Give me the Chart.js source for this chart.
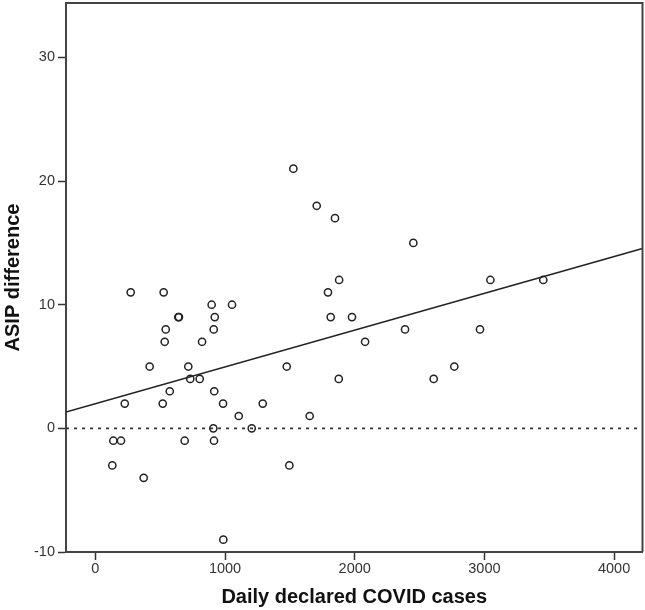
<!DOCTYPE html>
<html>
<head>
<meta charset="utf-8">
<script src="https://cdn.jsdelivr.net/npm/chart.js@4/dist/chart.umd.min.js"></script>
<style>
  body { margin: 0; background: #fff; }
  canvas { display: block; }
</style>
</head>
<body>
<canvas id="asip-chart" width="645" height="610"></canvas>
<script>
// Daily declared COVID cases (x) vs ASIP difference (y)
let casesX = [1527, 1707, 1848, 2452, 273, 527, 1794, 1880, 3046, 3454,
    897, 1054, 640, 645, 921, 1815, 1979, 543, 913, 2388,
    2966, 535, 823, 2080, 419, 717, 1476, 2768, 732, 805,
    1877, 2609, 574, 917, 227, 520, 985, 1291, 1106, 1653,
    910, 1206, 139, 198, 689, 915, 131, 1496, 373, 987]
let asipY = [21, 18, 17, 15, 11, 11, 11, 12, 12, 12,
    10, 10, 9, 9, 9, 9, 9, 8, 8, 8,
    8, 7, 7, 7, 5, 5, 5, 5, 4, 4,
    4, 4, 3, 3, 2, 2, 2, 2, 1, 1,
    0, 0, -1, -1, -1, -1, -3, -3, -4, -9]

// Fit line end points (as drawn in the figure)
let fitX = [-226, 4219]
let fitY = [1.32, 14.55]

// Reference line at zero
let zeroX = [-226, 4219]
let zeroY = [0, 0]

// Axis ranges and ticks
let xRange = [-226, 4219]
let yRange = [-10, 34.4]
let xTicks = [0, 1000, 2000, 3000, 4000]
let yTicks = [-10, 0, 10, 20, 30]

function toPoints(xs, ys) {
    return xs.map(function (x, i) { return {x: x, y: ys[i]} })
}

// Draws the top and right edges of the plot box
let boxPlugin = {
    id: 'box',
    afterDraw: function (chart) {
        let a = chart.chartArea
        let c = chart.ctx
        c.save()
        c.strokeStyle = '#444'
        c.lineWidth = 2
        c.beginPath()
        c.moveTo(a.left, a.top)
        c.lineTo(a.right, a.top)
        c.lineTo(a.right, a.bottom)
        c.stroke()
        c.restore()
    }
}

let tickFont = {family: 'Liberation Sans', size: 14.5}
let titleFont = {family: 'Liberation Sans', size: 20, weight: 'bold'}

let cxt = document.querySelector('#asip-chart').getContext('2d')

let chart = new Chart(cxt, {
    type: 'scatter',
    data: {
        datasets: [
            {
                data: toPoints(zeroX, zeroY),
                showLine: true,
                borderColor: '#333',
                borderWidth: 1.6,
                borderDash: [3, 5],
                pointRadius: 0
            },
            {
                data: toPoints(fitX, fitY),
                showLine: true,
                borderColor: '#222',
                borderWidth: 1.6,
                pointRadius: 0
            },
            {
                data: toPoints(casesX, asipY),
                pointRadius: 3.6,
                pointBorderWidth: 1.5,
                pointBorderColor: '#222',
                pointBackgroundColor: 'rgba(0,0,0,0)'
            }
        ]
    },
    options: {
        responsive: false,
        animation: false,
        layout: {autoPadding: false, padding: {top: 3, right: 2.5, left: 0, bottom: 0}},
        plugins: {legend: {display: false}, tooltip: {enabled: false}},
        scales: {
            x: {
                type: 'linear',
                min: xRange[0],
                max: xRange[1],
                afterBuildTicks: function (scale) {
                    scale.ticks = xTicks.map(function (v) { return {value: v} })
                },
                afterFit: function (scale) {
                    scale.height = 58
                    scale.paddingLeft = 0
                    scale.paddingRight = 0
                },
                grid: {drawOnChartArea: false, tickLength: 8, tickColor: '#333', tickWidth: 1.5},
                border: {display: true, color: '#444', width: 2},
                ticks: {
                    font: tickFont, color: '#333', padding: 0, maxRotation: 0,
                    callback: function (v) { return String(v) }
                },
                title: {
                    display: true,
                    text: 'Daily declared COVID cases',
                    font: titleFont,
                    color: '#111',
                    padding: {top: 0, bottom: 1}
                }
            },
            y: {
                type: 'linear',
                min: yRange[0],
                max: yRange[1],
                afterBuildTicks: function (scale) {
                    scale.ticks = yTicks.map(function (v) { return {value: v} })
                },
                afterFit: function (scale) {
                    scale.width = 66
                    scale.paddingTop = 0
                    scale.paddingBottom = 0
                },
                grid: {drawOnChartArea: false, tickLength: 8, tickColor: '#333', tickWidth: 1.5},
                border: {display: true, color: '#444', width: 2},
                ticks: {
                    font: tickFont, color: '#333', padding: 3,
                    callback: function (v) { return String(v) }
                },
                title: {
                    display: true,
                    text: 'ASIP difference',
                    font: titleFont,
                    color: '#111',
                    padding: {top: 1.5, bottom: 0}
                }
            }
        }
    },
    plugins: [boxPlugin]
})
</script>
</body>
</html>
